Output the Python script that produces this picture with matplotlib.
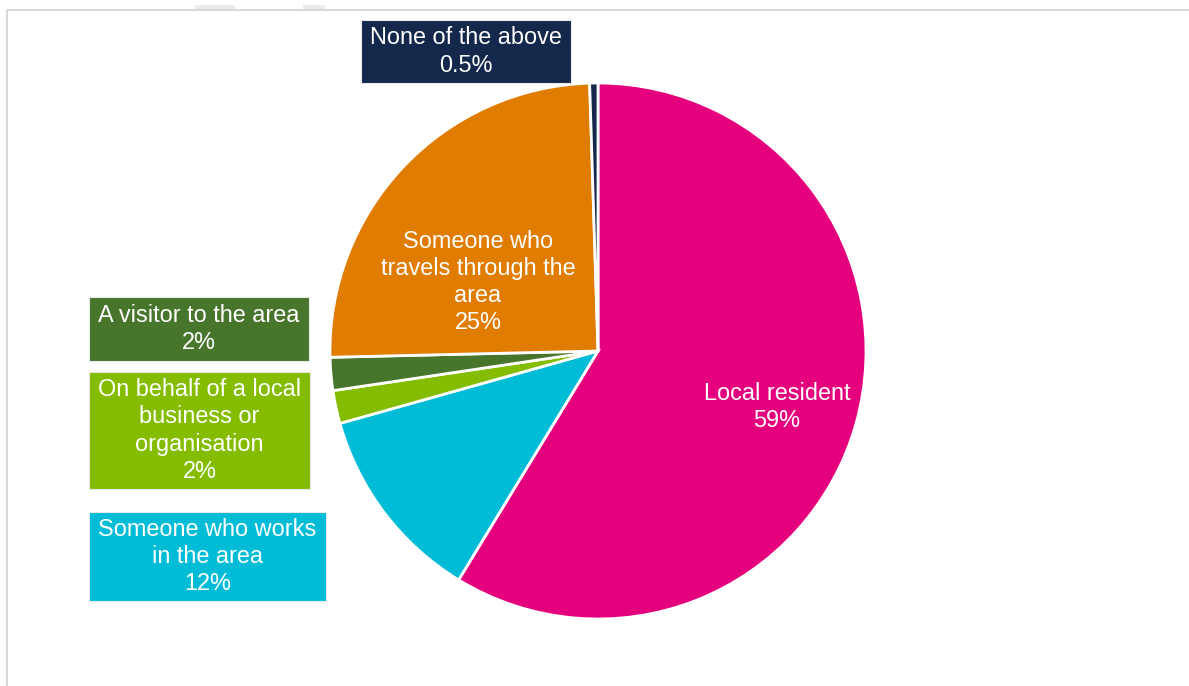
import matplotlib
matplotlib.use("Agg")
import matplotlib.pyplot as plt
from matplotlib.patches import Rectangle

# ---- data ----
categories = ["Local resident", "Someone who works\nin the area",
              "On behalf of a local\nbusiness or\norganisation",
              "A visitor to the area", "Someone who\ntravels through the\narea",
              "None of the above"]
values = [59, 12, 2, 2, 25, 0.5]
value_labels = ["59%", "12%", "2%", "2%", "25%", "0.5%"]
colors = ["#E5007D", "#00BCD6", "#84BD00", "#48752C", "#E07C00", "#14284B"]

W, H = 1189, 686
plt.rcParams['font.family'] = ['Liberation Sans', 'DejaVu Sans']
fig = plt.figure(figsize=(W / 100, H / 100), dpi=100)
ax = fig.add_axes([0, 0, 1, 1])
ax.set_xlim(0, W)
ax.set_ylim(0, H)
ax.set_aspect('equal')
ax.axis('off')

def py(y):
    return H - y

# frame / decoration
ax.plot([7, 7, W], [py(H), py(10), py(10)], color="#D9D9D9", lw=1.5, solid_capstyle='butt')
ax.add_patch(Rectangle((195, py(10)), 40, 5, color="#EBEBEB", lw=0))
ax.add_patch(Rectangle((303, py(10)), 22, 5, color="#EBEBEB", lw=0))

cx, cy, r = 598, py(351), 268
ax.pie(values, colors=colors, startangle=90, counterclock=False,
       center=(cx, cy), radius=r, frame=True,
       wedgeprops=dict(edgecolor="white", linewidth=2.0))
ax.set_xlim(0, W)
ax.set_ylim(0, H)
ax.axis('off')

fs = 16.9
ls = 1.24

# inside labels
ax.text(777, py(407), f"{categories[0]}\n{value_labels[0]}", color="white",
        fontsize=fs, ha="center", va="center", linespacing=ls, multialignment="center")
ax.text(478, py(282), f"{categories[4]}\n{value_labels[4]}", color="white",
        fontsize=fs, ha="center", va="center", linespacing=ls, multialignment="center")

# boxed outside labels: (index, x0, y0, x1, y1) in pixels
boxes = [(5, 361, 20, 571, 83), (3, 89, 297, 309, 361),
         (2, 89, 372, 310, 489), (1, 89, 512, 326, 601)]
for i, x0, y0, x1, y1 in boxes:
    ax.add_patch(Rectangle((x0, py(y1)), x1 - x0, y1 - y0, facecolor=colors[i],
                           edgecolor="#E8E8E8", lw=0.8, zorder=3))
    ax.text((x0 + x1) / 2, py((y0 + y1) / 2), f"{categories[i]}\n{value_labels[i]}",
            color="white", fontsize=fs, ha="center", va="center", linespacing=ls,
            multialignment="center", zorder=4)

fig.savefig("out.png", dpi=100, facecolor="white")
